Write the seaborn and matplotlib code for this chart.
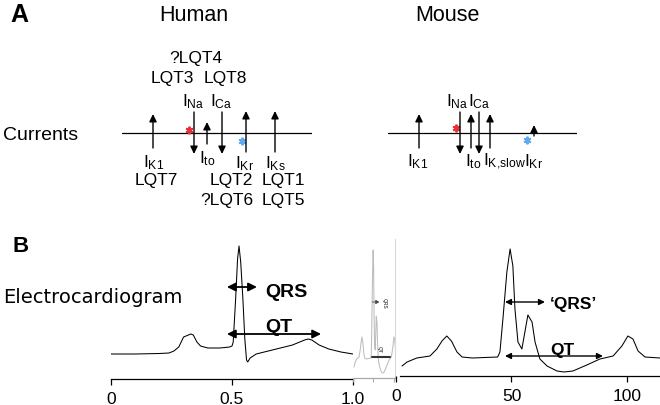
import matplotlib
matplotlib.use('Agg')
import matplotlib.pyplot as plt
import seaborn as sns

W, H = 660, 406

# ---- A: ionic currents (position along the AP, arrow start -> end, + = outward)
human_currents = ['K1', 'Na', 'to', 'Ca', 'Kr', 'Ks']
human_pos = [3.1, 7.2, 8.5, 10.0, 12.4, 15.3]
human_start = [-1.5, 2.1, -1.1, 2.1, -1.9, -1.9]
human_end = [1.9, -2.1, 1.1, -2.1, 2.2, 2.2]
human_label_x = [3.2, 7.1, 8.5, 9.9, 12.3, 15.3]
human_label_y = [-3.3, 2.8, -2.9, 2.8, -3.4, -3.4]
human_lqt = ['?LQT4', 'LQT3', 'LQT8', 'LQT7', 'LQT2', 'LQT1', '?LQT6', 'LQT5']
human_lqt_x = [7.4, 5.0, 10.3, 3.4, 10.9, 16.1, 10.5, 16.1]
human_lqt_y = [7.1, 5.1, 5.1, -5.1, -5.1, -5.1, -7.1, -7.1]
human_stars_x = [6.7, 12.0]
human_stars_y = [0.3, -0.8]

mouse_currents = ['K1', 'Na', 'to', 'Ca', 'K{,}slow', 'Kr']
mouse_pos = [3.1, 7.2, 8.3, 9.1, 10.2, 14.6]
mouse_start = [-1.5, 2.1, -1.5, 2.1, -1.5, -0.3]
mouse_end = [1.9, -2.1, 1.9, -2.1, 1.9, 0.8]
mouse_label_x = [3.0, 6.95, 8.5, 9.15, 11.6, 14.6]
mouse_label_y = [-3.2, 2.8, -3.2, 2.8, -3.2, -3.2]
mouse_stars_x = [6.8, 13.9]
mouse_stars_y = [0.5, -0.7]
star_colors = ['#e5323b', '#62aaf0']

# ---- B: electrocardiograms
human_t = [0.00, 0.10, 0.20, 0.24, 0.26, 0.28, 0.29, 0.30, 0.31, 0.33, 0.34, 0.355,
           0.37, 0.40, 0.45, 0.49, 0.50, 0.505, 0.515, 0.523, 0.529, 0.536, 0.545,
           0.553, 0.56, 0.565, 0.575, 0.60, 0.65, 0.70, 0.75, 0.78, 0.80, 0.815,
           0.83, 0.86, 0.90, 0.95, 1.00]
human_v = [0.00, 0.00, 0.005, 0.01, 0.03, 0.07, 0.12, 0.17, 0.18, 0.20, 0.19, 0.12,
           0.08, 0.06, 0.06, 0.07, 0.08, 0.12, 0.55, 0.95, 1.08, 0.92, 0.55,
           0.15, -0.06, -0.08, -0.04, 0.00, 0.03, 0.06, 0.09, 0.12, 0.14, 0.15,
           0.14, 0.09, 0.05, 0.02, 0.00]
human_qrs = (0.479, 0.603)
human_qt = (0.479, 0.868)

mouse_ms = [2.6, 4.8, 9, 14.7, 17.7, 19.9, 22, 24, 26.4, 28.6, 33, 44, 45, 46.4, 48,
            49.4, 50.6, 51.5, 52.8, 54.5, 55.8, 57.1, 58.9, 60.2, 62.3, 65.4, 69.7,
            72.7, 76.6, 82.6, 88.3, 94, 97.8, 100.4, 102.6, 104.8, 107.8, 114.3]
mouse_v = [-0.08, -0.04, 0.0, 0.02, 0.09, 0.17, 0.22, 0.17, 0.06, 0.01, 0.0, 0.01,
           0.06, 0.42, 0.86, 1.09, 0.92, 0.49, 0.16, 0.09, 0.26, 0.43, 0.36, 0.16,
           -0.01, -0.08, -0.13, -0.14, -0.13, -0.07, -0.01, 0.02, 0.12, 0.22, 0.19,
           0.07, 0.01, 0.0]
mouse_qrs = (47.2, 64.5)
mouse_qt = (47.2, 89.6)

sns.set_theme(style='white')
plt.rcParams['font.family'] = ['Liberation Sans', 'DejaVu Sans']
plt.rcParams['mathtext.fontset'] = 'custom'
plt.rcParams['mathtext.rm'] = 'Liberation Sans'
plt.rcParams['mathtext.it'] = 'Liberation Sans:italic'
plt.rcParams['mathtext.bf'] = 'Liberation Sans:bold'
plt.rcParams['text.color'] = 'black'
plt.rcParams['axes.edgecolor'] = 'black'
plt.rcParams['xtick.color'] = 'black'
plt.rcParams['xtick.labelcolor'] = 'black'

fig = plt.figure(figsize=(W / 100, H / 100), dpi=100)


def px_axes(x0, x1, y_top, y_bot):
    ax = fig.add_axes([x0 / W, 1 - y_bot / H, (x1 - x0) / W, (y_bot - y_top) / H])
    ax.patch.set_visible(False)
    return ax


def ftext(x, y, s, **kw):
    fig.text(x / W, 1 - y / H, s, va='baseline', color='black', **kw)


def draw_currents(ax, length, names, pos, start, end, lab_x, lab_y, sx, sy):
    ax.set_xlim(0, length)
    ax.set_ylim(-8.1, 9.4)
    ax.axis('off')
    ax.axhline(0, color='black', lw=0.9)
    for n, p, s, e, lx, ly in zip(names, pos, start, end, lab_x, lab_y):
        ax.annotate('', xy=(p, e), xytext=(p, s),
                    arrowprops=dict(arrowstyle='-|>,head_length=0.45,head_width=0.22',
                                    mutation_scale=10, lw=1.0, color='black',
                                    shrinkA=0, shrinkB=0))
        ax.text(lx, ly, 'I$_{\\mathrm{%s}}$' % n, ha='center', va='baseline',
                fontsize=12.5, clip_on=False)
    for x, y, c in zip(sx, sy, star_colors):
        ax.plot(x, y, marker=(6, 2, 0), ms=5.5, mew=1.4, color=c, clip_on=False)


def ecg_axes(ax, xlim, ylim, ticks, labels, color='black'):
    ax.set_xlim(*xlim)
    ax.set_ylim(*ylim)
    for side in ['top', 'left', 'right']:
        ax.spines[side].set_visible(False)
    ax.spines['bottom'].set_color(color)
    ax.spines['bottom'].set_linewidth(0.9)
    ax.set_yticks([])
    ax.set_xticks(ticks)
    ax.set_xticklabels(labels)
    ax.tick_params(axis='x', direction='out', length=4.3, width=0.9, pad=4.3,
                   colors=color, labelsize=12.5, labelcolor='black', bottom=True)
    ax.set_xlabel('')
    ax.set_ylabel('')


def double_arrow(ax, x0, x1, y, lw, ms):
    ax.annotate('', xy=(x1, y), xytext=(x0, y),
                arrowprops=dict(arrowstyle='<|-|>,head_length=0.5,head_width=0.25',
                                mutation_scale=ms, lw=lw, color='black',
                                shrinkA=0, shrinkB=0))


# panel titles and row labels
ftext(10, 22, 'A', fontsize=18, fontweight='bold')
ftext(13, 252, 'B', fontsize=16, fontweight='bold')
ftext(194, 21, 'Human', fontsize=15.5, ha='center')
ftext(447, 21, 'Mouse', fontsize=15.5, ha='center')
ftext(3, 140, 'Currents', fontsize=14)
ftext(3, 303, 'Electrocardiogram', fontsize=14, family=['DejaVu Sans'])

# A: currents
ax_h = px_axes(122, 312, 40, 215)
draw_currents(ax_h, 19, human_currents, human_pos, human_start, human_end,
              human_label_x, human_label_y, human_stars_x, human_stars_y)
for s, x, y in zip(human_lqt, human_lqt_x, human_lqt_y):
    ax_h.text(x, y, s, ha='center', va='baseline', fontsize=12.5, clip_on=False)

ax_m = px_axes(388, 577, 40, 215)
draw_currents(ax_m, 18.9, mouse_currents, mouse_pos, mouse_start, mouse_end,
              mouse_label_x, mouse_label_y, mouse_stars_x, mouse_stars_y)

# B: human ECG
ax_he = px_axes(111, 353, 240, 380)
sns.lineplot(x=human_t, y=human_v, ax=ax_he, color='black', lw=0.75,
             sort=False, estimator=None)
ecg_axes(ax_he, (0, 1.0), (-0.25, 1.15), [0, 0.5, 1.0], ['0', '0.5', '1.0'])
double_arrow(ax_he, *human_qrs, 0.67, 1.3, 10)
double_arrow(ax_he, *human_qt, 0.20, 1.3, 10)
ax_he.text(0.636, 0.58, 'QRS', fontsize=14, fontweight='bold', ha='left', va='baseline')
ax_he.text(0.692, 0.23, 'QT', fontsize=14, fontweight='bold', ha='center', va='baseline')

# mouse ECG drawn on the human time scale (grey inset)
ax_in = px_axes(353, 395, 240, 379)
sns.lineplot(x=mouse_ms, y=mouse_v, ax=ax_in, color='#bdbdbd', lw=0.75,
             sort=False, estimator=None)
ecg_axes(ax_in, (0, 103), (-0.19, 1.20), [0, 50, 100], ['', '', ''], color='#a8a8a8')
ax_in.tick_params(axis='x', length=3, width=0.7)
ax_in.spines['right'].set_visible(True)
ax_in.spines['right'].set_color('#d8d8d8')
ax_in.spines['right'].set_linewidth(0.8)
ax_in.annotate('', xy=(mouse_qrs[1], 0.57), xytext=(mouse_qrs[0], 0.57),
               arrowprops=dict(arrowstyle='-|>,head_length=0.5,head_width=0.3',
                               mutation_scale=4, lw=0.6, color='#444444',
                               shrinkA=0, shrinkB=0))
ax_in.text(76, 0.57, 'QRS', fontsize=3.5, fontweight='bold', rotation=-90,
           ha='center', va='center', color='#555555')
ax_in.plot(mouse_qt, [0.02, 0.02], color='#333333', lw=1.5)
ax_in.text(64, 0.11, 'QT', fontsize=3.5, fontweight='bold', rotation=-90,
           ha='center', va='center', color='#555555')

# mouse ECG
ax_me = px_axes(396, 660, 240, 377)
sns.lineplot(x=mouse_ms, y=mouse_v, ax=ax_me, color='black', lw=0.75,
             sort=False, estimator=None)
ecg_axes(ax_me, (0, 114.3), (-0.18, 1.19), [0, 50, 100], ['0', '50', '100'])
ax_me.spines['bottom'].set_bounds(1.7, 114.3)
double_arrow(ax_me, *mouse_qrs, 0.56, 1.0, 7)
double_arrow(ax_me, *mouse_qt, 0.02, 1.0, 7)
ax_me.text(66.7, 0.50, '\u2018QRS\u2019', fontsize=12.5, fontweight='bold',
           ha='left', va='baseline')
ax_me.text(71.9, 0.04, 'QT', fontsize=12.5, fontweight='bold', ha='center', va='baseline')

fig.savefig('out.png', dpi=100)
